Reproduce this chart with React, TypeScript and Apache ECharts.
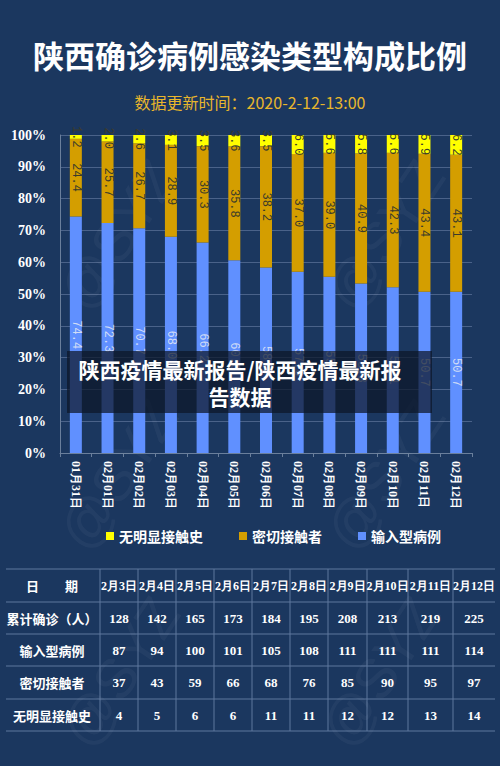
import React, { useEffect, useRef } from "react";
import * as echarts from "echarts";

const categories = ["01月31日", "02月01日", "02月02日", "02月03日", "02月04日", "02月05日", "02月06日", "02月07日", "02月08日", "02月09日", "02月10日", "02月11日", "02月12日"];
const importedPct = [74.4, 72.3, 70.7, 68.0, 66.2, 60.6, 58.3, 57.0, 55.4, 53.3, 52.1, 50.7, 50.7];
const contactPct = [24.4, 25.7, 26.7, 28.9, 30.3, 35.8, 38.2, 37.0, 39.0, 40.9, 42.3, 43.4, 43.1];
const unknownPct = [1.2, 2.0, 2.6, 3.1, 3.5, 3.6, 3.5, 6.0, 5.6, 5.8, 5.6, 5.9, 6.2];

const tableHeader = "日　　期";
const tableDates = ["2月3日", "2月4日", "2月5日", "2月6日", "2月7日", "2月8日", "2月9日", "2月10日", "2月11日", "2月12日"];
const rowLabels = ["累计确诊（人）", "输入型病例", "密切接触者", "无明显接触史"];
const totalCases = [128, 142, 165, 173, 184, 195, 208, 213, 219, 225];
const importedCases = [87, 94, 100, 101, 105, 108, 111, 111, 111, 114];
const contactCases = [37, 43, 59, 66, 68, 76, 85, 90, 95, 97];
const unknownCases = [4, 5, 6, 6, 11, 11, 12, 12, 13, 14];

const seriesNames = ["输入型病例", "密切接触者", "无明显接触史"];
const legendOrder = ["无明显接触史", "密切接触者", "输入型病例"];

const titleText = "陕西确诊病例感染类型构成比例";
const subtitleText = "数据更新时间：2020-2-12-13:00";
const overlayText = "陕西疫情最新报告/陕西疫情最新报\n告数据";
const watermarkText = "@SYZ";

// layout (not data)
const colEdges = [6, 100, 138, 176, 214, 252, 290, 328, 367, 408, 453, 495];
const rowEdges = [569, 602, 634, 666, 699, 731];
const watermarkSpots = [
  [118, 235], [385, 235], [118, 475], [385, 475], [120, 672], [380, 672],
];

const BG = "#1b375f";
const SERIF = "'Liberation Serif', 'DejaVu Serif', serif";
const MONO = "'Liberation Mono', 'DejaVu Sans Mono', monospace";
const CJK = "'Noto Sans CJK SC', 'Noto Sans', sans-serif";

export default function App() {
  const ref = useRef<HTMLDivElement>(null);
  useEffect(() => {
    document.body.style.margin = "0";
    if (!ref.current) return;
    const chart = echarts.init(ref.current, null, { renderer: "svg" });

    const graphics: any[] = [];
    watermarkSpots.forEach(([x, y]) => {
      graphics.push({
        type: "text",
        x,
        y,
        rotation: Math.PI / 3.2,
        z: 1,
        silent: true,
        style: {
          text: watermarkText,
          fill: "rgba(255,255,255,0.04)",
          font: "56px 'Liberation Sans', sans-serif",
          align: "center",
          verticalAlign: "middle",
        },
      });
    });
    rowEdges.forEach((y) => {
      graphics.push({
        type: "line",
        shape: { x1: colEdges[0], y1: y, x2: colEdges[colEdges.length - 1], y2: y },
        style: { stroke: "#5f789e", lineWidth: 1 },
      });
    });
    colEdges.slice(1, -1).forEach((x) => {
      graphics.push({
        type: "line",
        shape: { x1: x, y1: rowEdges[0], x2: x, y2: rowEdges[rowEdges.length - 1] },
        style: { stroke: "#5f789e", lineWidth: 1 },
      });
    });
    const cellText = (text: string, col: number, row: number, font: string) => {
      const cx = col === 0 ? 52 : (colEdges[col] + colEdges[col + 1]) / 2;
      const cy = (rowEdges[row] + rowEdges[row + 1]) / 2;
      graphics.push({
        type: "text",
        x: cx,
        y: cy,
        style: { text, fill: "#ffffff", font, align: "center", verticalAlign: "middle" },
      });
    };
    cellText(tableHeader, 0, 0, `bold 13px ${CJK}`);
    tableDates.forEach((d, i) => cellText(d, i + 1, 0, `bold 12px ${SERIF}`));
    const rows = [totalCases, importedCases, contactCases, unknownCases];
    rows.forEach((vals, r) => {
      cellText(rowLabels[r], 0, r + 1, `bold 13px ${CJK}`);
      vals.forEach((v, i) => cellText(String(v), i + 1, r + 1, `bold 13px ${SERIF}`));
    });
    graphics.push({
      type: "rect",
      z: 100,
      shape: { x: 67, y: 351, width: 365, height: 62 },
      style: { fill: "rgba(12,22,40,0.72)" },
    });
    graphics.push({
      type: "text",
      z: 101,
      x: 240,
      y: 382,
      style: {
        text: overlayText,
        fill: "#ffffff",
        font: `bold 21px ${CJK}`,
        align: "center",
        verticalAlign: "middle",
        lineHeight: 27,
      },
    });

    const labelFmt = (p: any) => Number(p.value).toFixed(1);
    const colors = ["#6090ff", "#d49e00", "#ffff00"];
    const labelColors = ["rgba(230,235,245,0.85)", "#3b3b2a", "#3b3b2a"];
    const seriesData = [importedPct, contactPct, unknownPct];

    chart.setOption({
      animation: false,
      backgroundColor: BG,
      title: [
        {
          text: titleText,
          left: "center",
          top: 34,
          textStyle: { color: "#ffffff", fontSize: 31, fontWeight: "bold", fontFamily: CJK },
        },
        {
          text: subtitleText,
          left: "center",
          top: 89,
          textStyle: { color: "#e8b62c", fontSize: 16, fontWeight: "normal", fontFamily: CJK },
        },
      ],
      legend: {
        data: legendOrder,
        top: 524,
        left: 101,
        icon: "rect",
        itemWidth: 8,
        itemHeight: 8,
        itemGap: 36,
        textStyle: { color: "#ffffff", fontSize: 14, fontWeight: "bold", fontFamily: CJK },
      },
      grid: { left: 60, right: 28, top: 135, bottom: 313, containLabel: false },
      xAxis: {
        type: "category",
        data: categories,
        axisLine: { show: true, lineStyle: { color: "#6a7f9c" } },
        axisTick: { show: true, length: 4, lineStyle: { color: "#6a7f9c" } },
        axisLabel: {
          interval: 0,
          rotate: -90,
          margin: 8,
          color: "#ffffff",
          fontWeight: "bold",
          fontFamily: SERIF,
          fontSize: 12,
        },
      },
      yAxis: {
        type: "value",
        min: 0,
        max: 100,
        interval: 10,
        axisLine: { show: true, lineStyle: { color: "#6a7f9c" } },
        axisTick: { show: false },
        splitLine: { lineStyle: { color: "#4a6289" } },
        axisLabel: {
          formatter: "{value}%",
          color: "#ffffff",
          fontWeight: "bold",
          fontFamily: SERIF,
          fontSize: 14,
          margin: 14,
        },
      },
      series: seriesNames.map((name, i) => ({
        name,
        type: "bar",
        stack: "total",
        barWidth: 12,
        data: seriesData[i],
        itemStyle: { color: colors[i] },
        label: {
          show: true,
          position: "inside",
          rotate: -90,
          formatter: labelFmt,
          color: labelColors[i],
          fontFamily: MONO,
          fontSize: 12,
        },
      })),
      graphic: graphics,
    });
    return () => chart.dispose();
  }, []);
  return <div ref={ref} style={{ width: 500, height: 766 }} />;
}
